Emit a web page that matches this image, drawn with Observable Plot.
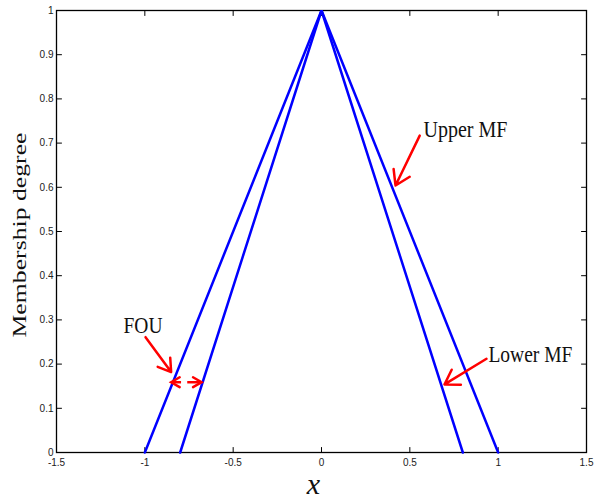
<!DOCTYPE html>
<html>
<head>
<meta charset="utf-8">
<script src="https://cdn.jsdelivr.net/npm/d3@7"></script>
<script src="https://cdn.jsdelivr.net/npm/@observablehq/plot@0.6"></script>
<style>
  html, body { margin: 0; padding: 0; background: #fff; }
  #chart svg { display: block; }
</style>
</head>
<body>
<div id="chart"></div>
<script>
// Membership functions (vertices)
const upperX = [-1, 0, 1];
const upperY = [0, 1, 0];
const lowerX = [-0.8, 0, 0.8];
const lowerY = [0, 1, 0];

// Axis ticks
const xTicks = [-1.5, -1, -0.5, 0, 0.5, 1, 1.5];
const xTickLabels = ["-1.5", "-1", "-0.5", "0", "0.5", "1", "1.5"];
const yTicks = [0, 0.1, 0.2, 0.3, 0.4, 0.5, 0.6, 0.7, 0.8, 0.9, 1];
const yTickLabels = ["0", "0.1", "0.2", "0.3", "0.4", "0.5", "0.6", "0.7", "0.8", "0.9", "1"];

// Annotations
const noteText = ["Upper MF", "Lower MF", "FOU"];
const noteX = [0.577, 0.945, -1.121];
const noteY = [0.713, 0.204, 0.271];

// Long arrows (tail x1,y1 -> head x2,y2)
const arrowX1 = [0.556, 0.934, -0.996];
const arrowY1 = [0.717, 0.212, 0.261];
const arrowX2 = [0.419, 0.696, -0.851];
const arrowY2 = [0.604, 0.154, 0.182];

// Short FOU width arrows (horizontal)
const fouX1 = [-0.795, -0.760];
const fouX2 = [-0.851, -0.679];
const fouY = [0.159, 0.159];

const upper = upperX.map((x, i) => ({x, y: upperY[i]}));
const lower = lowerX.map((x, i) => ({x, y: lowerY[i]}));
const notes = noteText.map((t, i) => ({t, x: noteX[i], y: noteY[i]}));
const arrows = arrowX1.map((x1, i) => ({x1, y1: arrowY1[i], x2: arrowX2[i], y2: arrowY2[i]}));
const fou = fouX1.map((x1, i) => ({x1, x2: fouX2[i], y: fouY[i]}));

const tickShape = {
  draw(context, l) { context.moveTo(0, 0); context.lineTo(0, -l); }
};
const headShape = {
  draw(context, l) {
    const w = l * 0.58;
    context.moveTo(-w, l); context.lineTo(0, 0); context.lineTo(w, l);
  }
};
const tickOpts = {anchor: "start", length: 5, shape: tickShape, stroke: "black", strokeWidth: 1};
const red = "#ff0000";

const marks = [
  Plot.frame({stroke: "black", strokeWidth: 1.3}),
  Plot.vector(xTicks, {...tickOpts, x: d => d, frameAnchor: "bottom", rotate: 0}),
  Plot.vector(xTicks, {...tickOpts, x: d => d, frameAnchor: "top", rotate: 180}),
  Plot.vector(yTicks, {...tickOpts, y: d => d, frameAnchor: "left", rotate: 90}),
  Plot.vector(yTicks, {...tickOpts, y: d => d, frameAnchor: "right", rotate: -90}),
  Plot.axisX({ticks: xTicks, tickSize: 0, tickPadding: 6, label: null,
    tickFormat: d => xTickLabels[xTicks.indexOf(d)],
    fontSize: 10, fontFamily: "Liberation Sans, Arial, sans-serif", fill: "#222"}),
  Plot.axisY({ticks: yTicks, tickSize: 0, tickPadding: 3, label: null,
    tickFormat: d => yTickLabels[yTicks.indexOf(d)],
    fontSize: 10, fontFamily: "Liberation Sans, Arial, sans-serif", fill: "#222"}),
  Plot.line(upper, {x: "x", y: "y", stroke: "#0000ff", strokeWidth: 2.5, strokeLinejoin: "miter"}),
  Plot.line(lower, {x: "x", y: "y", stroke: "#0000ff", strokeWidth: 2.5, strokeLinejoin: "miter"}),
  Plot.arrow(arrows, {x1: "x1", y1: "y1", x2: "x2", y2: "y2",
    stroke: red, strokeWidth: 2.5, headLength: 10, headAngle: 65}),
  Plot.link(fou, {x1: "x1", x2: "x2", y1: "y", y2: "y", stroke: red, strokeWidth: 2.5}),
  Plot.vector(fou, {x: "x2", y: "y", rotate: d => (d.x2 < d.x1 ? -90 : 90), anchor: "start",
    length: 8.5, shape: headShape, stroke: red, strokeWidth: 2.5, strokeLinejoin: "miter"}),
  Plot.text(notes, {x: "x", y: "y", text: "t", textAnchor: "start", lineAnchor: "bottom",
    fontSize: 23, fontFamily: "Liberation Serif, Times New Roman, serif", fill: "#111"}),
  Plot.text(["Membership degree"], {frameAnchor: "left", dx: -31, dy: 3.5, rotate: -90,
    lineAnchor: "bottom", textAnchor: "middle", fontSize: 19,
    fontFamily: "Liberation Serif, Times New Roman, serif", fill: "#111"}),
  Plot.text(["x"], {frameAnchor: "bottom", dx: -8, dy: 32, lineAnchor: "middle",
    fontSize: 30, fontStyle: "italic",
    fontFamily: "Liberation Serif, Times New Roman, serif", fill: "#111"})
];

const chart = Plot.plot({
  width: 594,
  height: 502,
  marginLeft: 56,
  marginRight: 8,
  marginTop: 10,
  marginBottom: 50,
  x: {domain: [-1.5, 1.5]},
  y: {domain: [0, 1]},
  style: {background: "white", overflow: "visible"},
  marks
});

// Stretch annotation text to match the reference proportions
const lengths = {"Upper MF": 84, "Lower MF": 84, "FOU": 39, "Membership degree": 205};
d3.select(chart).selectAll("text").each(function() {
  const t = this.textContent;
  if (lengths[t] !== undefined) {
    this.setAttribute("textLength", lengths[t]);
    this.setAttribute("lengthAdjust", "spacingAndGlyphs");
  }
});

document.getElementById("chart").appendChild(chart);
</script>
</body>
</html>
